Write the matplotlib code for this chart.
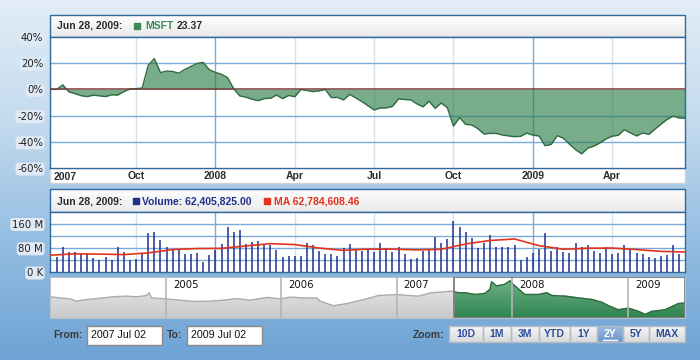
import numpy as np
import pandas as pd
import matplotlib
matplotlib.use('Agg')
import matplotlib.pyplot as plt
from matplotlib.colors import LinearSegmentedColormap
from matplotlib.patches import Rectangle

# ---- data ----
# MSFT change in % (weekly, first point one week before the range start)
msft_dates = pd.date_range('2007-06-25', periods=105, freq='7D')
msft_pct = [0, 0, 3.5, -1.9, -3.2, -4.8, -5.5, -4.4, -4.9, -5.5, -4.1, -4.3, -1.7, 0.3, 0.6, 1.0,
            18.5, 23.5, 12.8, 14.0, 13.7, 12.3, 15.3, 17.5, 19.8, 20.6, 15.0, 13.0, 11.5, 9.0, 0.5,
            -5.0, -5.9, -7.5, -8.6, -7.0, -6.8, -4.3, -7.0, -4.6, -5.6, 0.0, -0.8, -1.7, -1.1, 0.0,
            -6.3, -6.1, -8.0, -3.8, -6.5, -9.3, -12.5, -15.7, -14.2, -14.1, -13.0, -7.2, -7.7, -8.0,
            -11.0, -13.3, -9.0, -14.5, -10.3, -14.0, -28.0, -21.5, -26.7, -27.1, -30.0, -34.0, -33.6,
            -33.6, -34.8, -35.5, -36.1, -35.8, -33.3, -34.9, -35.5, -43.0, -42.0, -35.3, -37.3, -41.8,
            -46.0, -49.2, -44.8, -43.3, -40.8, -37.8, -35.7, -35.0, -30.8, -33.2, -35.5, -33.2, -34.3,
            -30.3, -26.5, -22.9, -20.4, -21.8, -22.1]

# weekly volume, millions
vol_dates = pd.date_range('2007-07-02', periods=103, freq='7D')
volume_m = [50, 83, 66, 67, 63, 61, 46, 41, 49, 38, 83, 67, 41, 44, 63, 130, 133, 104, 83, 72,
            77, 60, 61, 63, 33, 56, 74, 91, 150, 132, 139, 94, 99, 101, 89, 88, 74, 50, 52, 52,
            52, 97, 88, 69, 61, 61, 54, 80, 91,
            71, 68, 72, 67, 97, 80, 66, 83, 61, 44, 47, 69, 74, 116, 97, 110, 168, 147, 132, 112,
            78, 97, 123, 83, 83, 83, 88, 39, 50, 63, 76, 128, 68, 84, 66, 63, 97, 83, 88, 70,
            62, 84, 58, 63, 88, 77, 63, 61, 49, 47, 54, 56, 88, 61]

# moving average of volume, millions
ma_dates = pd.date_range('2007-06-25', periods=27, freq='28D')
ma_m = [55.5, 60, 59, 57.5, 63, 74, 77.5, 78, 86, 93.5, 90.5, 79, 71.5, 75.5, 75.5, 73, 75,
        92.5, 104, 109, 87, 75, 78.5, 79, 74, 68, 66]

# scroller price
scr_dates = pd.to_datetime([
    '2004-01-01', '2004-01-31', '2004-03-03', '2004-03-24', '2004-04-25', '2004-06-06',
    '2004-07-18', '2004-08-29', '2004-09-30', '2004-11-01', '2004-11-09', '2004-11-16',
    '2004-12-28', '2005-02-14', '2005-03-28', '2005-05-20', '2005-07-01', '2005-08-13',
    '2005-09-24', '2005-11-16', '2005-12-28', '2006-01-28', '2006-03-11', '2006-04-23',
    '2006-05-03', '2006-06-14', '2006-07-27', '2006-09-18', '2006-10-09', '2006-11-04',
    '2007-01-01', '2007-02-07', '2007-03-10', '2007-04-21', '2007-05-23', '2007-06-29',
    '2007-07-01', '2007-07-15', '2007-08-05', '2007-09-06', '2007-10-07', '2007-10-23',
    '2007-10-28', '2007-11-13', '2007-12-09', '2007-12-25', '2008-01-04', '2008-01-20',
    '2008-02-10', '2008-03-24', '2008-04-20', '2008-05-06', '2008-06-17', '2008-07-29',
    '2008-09-10', '2008-10-11', '2008-11-01', '2008-12-02', '2009-01-03', '2009-02-04',
    '2009-02-25', '2009-03-18', '2009-04-29', '2009-06-10', '2009-07-01'])
scr_price = [26.5, 25.8, 25.2, 23.8, 24.8, 25.6,
             26.5, 26.9, 26.5, 27.3, 29.0, 25.8,
             25.2, 24.4, 23.6, 23.8, 24.4, 25.4,
             24.4, 26.1, 25.2, 26.3, 25.8, 25.8,
             23.8, 21.0, 22.3, 24.8, 25.8, 27.3,
             27.9, 27.3, 26.9, 29.0, 29.4, 30.0,
             29.6, 29.0, 29.0, 27.9, 28.6, 31.1,
             35.7, 33.2, 34.2, 36.4, 34.2, 31.5,
             27.9, 27.9, 29.0, 27.3, 26.9, 25.8,
             24.8, 23.1, 21.0, 18.5, 19.5, 17.5,
             15.6, 17.5, 18.5, 22.3, 22.7]
sel_start = pd.Timestamp('2007-07-01')

tick_dates = pd.to_datetime(['2007-10-01', '2007-12-31', '2008-03-31', '2008-06-30',
                             '2008-09-29', '2008-12-29', '2009-03-30'])
tick_names = ['Oct', '2008', 'Apr', 'Jul', 'Oct', '2009', 'Apr']
year_dates = pd.to_datetime(['2005-01-01', '2006-01-01', '2007-01-01', '2008-01-01', '2009-01-01'])
year_names = ['2005', '2006', '2007', '2008', '2009']
pct_ticks = [-60, -40, -20, 0, 20, 40]
vol_ticks = [0, 80, 160]
vol_tick_names = ['0 K', '80 M', '160 M']
zoom_names = ['10D', '1M', '3M', 'YTD', '1Y', '2Y', '5Y', 'MAX']

# ---- style ----
W, H = 700, 360
BORDER = '#2f6a9a'
GRID = '#7aaad8'
GRID_LIGHT = '#d3e3f1'
BOLD = dict(family='Liberation Sans', fontweight='bold', fontsize=7.5)
plt.rcParams['font.family'] = 'DejaVu Sans'

fig = plt.figure(figsize=(7, 3.6), dpi=100)


def px_axes(x0, y0, x1, y1, **kw):
    return fig.add_axes([x0 / W, 1 - y1 / H, (x1 - x0) / W, (y1 - y0) / H], **kw)


def cmap2(c0, c1):
    return LinearSegmentedColormap.from_list('', [c0, c1])


def box_grad(ax, x0, y0, x1, y1, c_top, c_bot, z):
    ax.imshow(np.linspace(0, 1, 64).reshape(-1, 1), cmap=cmap2(c_top, c_bot),
              extent=[x0, x1, y1, y0], origin='upper', aspect='auto', zorder=z)


def grad_area(ax, x, y, base, c_top, c_bot, z):
    poly = ax.fill_between(x, y, base, facecolor='none', edgecolor='none')
    xl, yl = ax.get_xlim(), ax.get_ylim()
    im = ax.imshow(np.linspace(0, 1, 64).reshape(-1, 1), cmap=cmap2(c_bot, c_top),
                   extent=[xl[0], xl[1], yl[0], yl[1]], origin='lower', aspect='auto', zorder=z)
    im.set_clip_path(poly.get_paths()[0], ax.transData)
    ax.set_xlim(xl)
    ax.set_ylim(yl)


def style(ax):
    for s in ax.spines.values():
        s.set_color(BORDER)
        s.set_linewidth(1)
    ax.tick_params(length=0)


def label_boxes(ax):
    for t in ax.get_yticklabels():
        t.set_bbox(dict(boxstyle='round,pad=0.15,rounding_size=0.3', fc='#dfeaf5', ec='none'))


def vgrid(ax):
    for d, n in zip(tick_dates, tick_names):
        ax.axvline(d, color=GRID if n.isdigit() else GRID_LIGHT, lw=1, zorder=0)


# background + decorations in pixel coords
bg = px_axes(0, 0, W, H, zorder=-5)
bg.imshow(np.linspace(0, 1, 256).reshape(-1, 1),
          cmap=LinearSegmentedColormap.from_list('', ['#e2edf7', '#c4dbee', '#95bde2', '#6ea3d4']),
          extent=[0, W, H, 0], origin='upper', aspect='auto', zorder=0)
box_grad(bg, 50, 15, 685, 37, '#ffffff', '#e9e9e9', 1)
bg.add_patch(Rectangle((50, 15), 635, 22, fill=False, ec=BORDER, lw=1, zorder=2))
bg.add_patch(Rectangle((50, 168), 635, 15, fc='white', ec='#c9d3dc', lw=1, zorder=1))
box_grad(bg, 50, 189, 685, 212, '#ffffff', '#e9e9e9', 1)
bg.add_patch(Rectangle((50, 189), 635, 23, fill=False, ec=BORDER, lw=1, zorder=2))

# legends
bg.text(57, 26, 'Jun 28, 2009:', ha='left', va='center', color='#2b2b2b', zorder=3, **BOLD)
bg.add_patch(Rectangle((134, 23), 6, 6, color='#3d8a57', zorder=3))
bg.text(145, 26, 'MSFT', ha='left', va='center', color='#3a8a5a', zorder=3, **BOLD)
bg.text(177, 26, '23.37', ha='left', va='center', color='#2b2b2b', zorder=3, **BOLD)
bg.text(57, 201, 'Jun 28, 2009:', ha='left', va='center', color='#2b2b2b', zorder=3, **BOLD)
bg.add_patch(Rectangle((133, 198), 5.5, 6, color='#1f2f8c', zorder=3))
bg.text(142, 201, 'Volume: 62,405,825.00', ha='left', va='center', color='#1f2f8c', zorder=3, **BOLD)
bg.add_patch(Rectangle((264, 198), 6, 6, color='#e2321b', zorder=3))
bg.text(274, 201, 'MA 62,784,608.46', ha='left', va='center', color='#e2321b', zorder=3, **BOLD)

# bottom controls
bg.text(53, 335, 'From:', ha='left', va='center', color='#3a3a3a', zorder=3, **BOLD)
bg.add_patch(Rectangle((87, 326), 75, 19, fc='white', ec='#8a8a8a', lw=1, zorder=2))
bg.text(91, 335.5, '2007 Jul 02', ha='left', va='center', family='Liberation Sans', fontsize=7.7,
        color='#111111', zorder=3)
bg.text(167, 335, 'To:', ha='left', va='center', color='#3a3a3a', zorder=3, **BOLD)
bg.add_patch(Rectangle((187, 326), 75, 19, fc='white', ec='#8a8a8a', lw=1, zorder=2))
bg.text(191, 335.5, '2009 Jul 02', ha='left', va='center', family='Liberation Sans', fontsize=7.7,
        color='#111111', zorder=3)
bg.text(444, 335, 'Zoom:', ha='right', va='center', color='#3a3a3a', zorder=3, **BOLD)
edges = [449.3, 482.7, 510.7, 538.7, 570, 597.3, 623.3, 649.3, 685]
for i, name in enumerate(zoom_names):
    x0, x1 = edges[i], edges[i + 1]
    sel = name == '2Y'
    if sel:
        box_grad(bg, x0, 326, x1, 342, '#98b8e0', '#6f98cd', 1)
    else:
        box_grad(bg, x0, 326, x1, 342, '#f7f7f7', '#d9d9d9', 1)
    bg.add_patch(Rectangle((x0, 326), x1 - x0, 16, fill=False, ec='#b3bcc6', lw=1, zorder=2))
    bg.text((x0 + x1) / 2, 334.3, name, ha='center', va='center', zorder=3,
            color='white' if sel else '#2c4f9f', **BOLD)
    if sel:
        bg.plot([x0 + 6, x1 - 6], [339.5, 339.5], color='white', lw=1, zorder=3)
bg.set_xlim(0, W)
bg.set_ylim(H, 0)
bg.axis('off')

xlim_main = (np.datetime64('2007-06-24T08:00'), np.datetime64('2009-06-21T12:00'))

# ---- main chart ----
ax = px_axes(50, 37, 685, 168)
ax.set_xlim(xlim_main)
ax.set_ylim(-60, 40)
vgrid(ax)
for v in [20, -20, -40]:
    ax.axhline(v, color=GRID, lw=1, zorder=0)
ax.fill_between(msft_dates, msft_pct, 0, color='#2e7d4a', alpha=0.64, lw=0, zorder=1)
ax.plot(msft_dates, msft_pct, color='#2f6b40', lw=1, zorder=2)
ax.axhline(0, color='#7a3c3c', lw=1.1, zorder=3)
ax.set_yticks(pct_ticks)
ax.set_yticklabels([f'{v}%' for v in pct_ticks], fontsize=7.3, color='#1e1e1e')
ax.set_xticks(tick_dates)
ax.set_xticklabels(tick_names, color='#2b2b2b', **BOLD)
style(ax)
ax.tick_params(axis='y', pad=5)
ax.tick_params(axis='x', pad=2.5)
label_boxes(ax)
ax.annotate('2007', xy=(0, 0), xycoords='axes fraction', xytext=(4, -8.5),
            textcoords='offset pixels', ha='left', va='center', color='#2b2b2b', **BOLD)
ax.set_xlim(xlim_main)

# ---- volume ----
vax = px_axes(50, 212, 685, 272)
vax.set_xlim(xlim_main)
vax.set_ylim(0, 198)
vgrid(vax)
for v in [40, 80, 120, 160]:
    vax.axhline(v, color=GRID, lw=1, zorder=0)
vax.vlines(vol_dates, 0, volume_m, color='#1f2f8c', lw=1.1, zorder=2)
vax.plot(ma_dates, ma_m, color='#e2321b', lw=1.2, zorder=3)
vax.set_yticks(vol_ticks)
vax.set_yticklabels(vol_tick_names, fontsize=7.3, color='#1e1e1e')
vax.set_xticks([])
style(vax)
vax.tick_params(axis='y', pad=5)
label_boxes(vax)
vax.set_xlim(xlim_main)

# ---- scroller ----
sax = px_axes(50, 277, 685, 318)
sax.set_xlim(np.datetime64('2003-12-31'), np.datetime64('2009-07-01'))
sax.set_ylim(13.4, 38.7)
sel = scr_dates >= sel_start
grad_area(sax, scr_dates, scr_price, 13.4, '#ececec', '#c9c9c9', 1)
sax.plot(scr_dates, scr_price, color='#ababab', lw=1, zorder=2)
grad_area(sax, scr_dates[sel], np.array(scr_price)[sel], 13.4, '#74b489', '#2f8350', 3)
sax.plot(scr_dates[sel], np.array(scr_price)[sel], color='#2e6e41', lw=1, zorder=4)
for d, n in zip(year_dates, year_names):
    sax.axvline(d, color='#b5b5b5', lw=1.2, zorder=5)
    sax.annotate(n, xy=(d, 38.7), xycoords='data', xytext=(7, -3), textcoords='offset pixels',
                 ha='left', va='top', fontsize=7.3, color='#111111', zorder=6)
x_end = sax.get_xlim()[1]
x_sel = matplotlib.dates.date2num(sel_start)
sax.add_patch(Rectangle((x_sel, 13.4), x_end - x_sel, 25.3,
                        fill=False, ec='#7f7f7f', lw=1.3, zorder=6))
for s in sax.spines.values():
    s.set_color('#b9c2ca')
sax.set_xticks([])
sax.set_yticks([])

fig.savefig('out.png', dpi=100)
